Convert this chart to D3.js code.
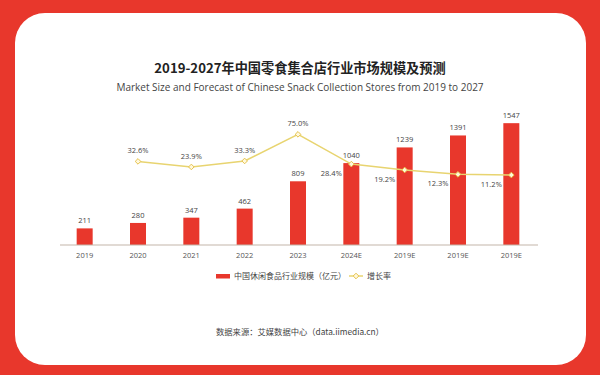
<!DOCTYPE html>
<html>
<head>
<meta charset="utf-8">
<script src="https://cdn.jsdelivr.net/npm/d3@7"></script>
<style>
  body { margin: 0; background: #e8372c; }
  svg { display: block; }
</style>
</head>
<body>
<div id="chart"></div>
<script>
// chart data
const years = ["2019", "2020", "2021", "2022", "2023", "2024E", "2019E", "2019E", "2019E"];
const marketSize = [211, 280, 347, 462, 809, 1040, 1239, 1391, 1547];
const growthRate = [null, 32.6, 23.9, 33.3, 75.0, 28.4, 19.2, 12.3, 11.2];

const title = "2019-2027年中国零食集合店行业市场规模及预测";
const subtitle = "Market Size and Forecast of Chinese Snack Collection Stores from 2019 to 2027";
const legendLabels = ["中国休闲食品行业规模（亿元）", "增长率"];
const source = "数据来源：艾媒数据中心（data.iimedia.cn）";

const width = 600, height = 375;
const red = "#e8372c", gold = "#e8d470";
const cjk = "'Noto Sans CJK SC', 'Noto Sans', sans-serif";

const svg = d3.select("#chart").append("svg")
    .attr("width", width)
    .attr("height", height);

// red frame + white card
svg.append("rect").attr("width", width).attr("height", height).attr("fill", red);
svg.append("rect")
    .attr("x", 15).attr("y", 13)
    .attr("width", 571).attr("height", 352)
    .attr("rx", 30)
    .attr("fill", "#fff");

svg.append("text")
    .attr("x", 300).attr("y", 73)
    .attr("text-anchor", "middle")
    .attr("font-family", cjk)
    .attr("font-weight", "bold")
    .attr("font-size", 13.2)
    .attr("fill", "#222")
    .text(title);

svg.append("text")
    .attr("x", 300).attr("y", 91)
    .attr("text-anchor", "middle")
    .attr("font-family", "'Open Sans', sans-serif")
    .attr("font-size", 10)
    .attr("fill", "#444")
    .text(subtitle);

const x = d3.scaleBand()
    .domain(d3.range(years.length))
    .range([58, 538])
    .paddingInner(0.7)
    .paddingOuter(0.35);

const y = d3.scaleLinear().domain([0, 1600]).range([245, 119]);
const y2 = d3.scaleLinear().domain([0, 100]).range([182.2, 118.4]);

// bars
svg.append("g").selectAll("rect")
    .data(marketSize)
    .join("rect")
    .attr("x", (d, i) => x(i))
    .attr("y", d => y(d))
    .attr("width", x.bandwidth())
    .attr("height", d => y(0) - y(d))
    .attr("fill", red);

svg.append("g").selectAll("text")
    .data(marketSize)
    .join("text")
    .attr("x", (d, i) => x(i) + x.bandwidth() / 2)
    .attr("y", d => y(d) - 5)
    .attr("text-anchor", "middle")
    .attr("font-family", "'Open Sans', sans-serif")
    .attr("font-size", 7.5)
    .attr("fill", "#444")
    .text(d => d);

// x axis
const xAxis = svg.append("g")
    .attr("transform", `translate(0,${y(0)})`)
    .call(d3.axisBottom(x).tickSize(0).tickPadding(8).tickFormat(i => years[i]));
xAxis.select(".domain").attr("stroke", "#c4b6aa").attr("stroke-width", 1.2).attr("d", "M60,0H538");
xAxis.selectAll("text")
    .attr("font-family", "'Open Sans', sans-serif")
    .attr("font-size", 7.5)
    .attr("fill", "#555");

// growth line
const pts = growthRate.map((v, i) => ({ v, i })).filter(d => d.v != null);
const line = d3.line()
    .x(d => x(d.i) + x.bandwidth() / 2)
    .y(d => y2(d.v));

svg.append("path")
    .datum(pts)
    .attr("d", line)
    .attr("fill", "none")
    .attr("stroke", gold)
    .attr("stroke-width", 1.5);

svg.append("g").selectAll("path")
    .data(pts)
    .join("path")
    .attr("d", d3.symbol(d3.symbolDiamond2, 20))
    .attr("transform", d => `translate(${x(d.i) + x.bandwidth() / 2},${y2(d.v)})`)
    .attr("fill", "#fff8dc")
    .attr("stroke", "#e6c24c")
    .attr("stroke-width", 1);

svg.append("g").selectAll("text")
    .data(pts)
    .join("text")
    .attr("x", d => x(d.i) + x.bandwidth() / 2 + (d.i >= 5 ? -20 : 0))
    .attr("y", d => y2(d.v) + (d.i >= 5 ? 12 : -8))
    .attr("text-anchor", "middle")
    .attr("font-family", "'Open Sans', sans-serif")
    .attr("font-size", 7.5)
    .attr("fill", "#444")
    .text(d => d.v.toFixed(1) + "%");

// legend
const legend = svg.append("g").attr("font-family", cjk).attr("font-size", 8).attr("fill", "#444");
legend.append("rect").attr("x", 216).attr("y", 274).attr("width", 14).attr("height", 4.5).attr("fill", red);
legend.append("text").attr("x", 234).attr("y", 279).text(legendLabels[0]);
legend.append("line").attr("x1", 349).attr("x2", 363).attr("y1", 276).attr("y2", 276)
    .attr("stroke", gold).attr("stroke-width", 1.5);
legend.append("path").attr("d", d3.symbol(d3.symbolDiamond2, 20))
    .attr("transform", "translate(356,276)")
    .attr("fill", "#fff8dc").attr("stroke", "#e6c24c");
legend.append("text").attr("x", 367).attr("y", 279).text(legendLabels[1]);

svg.append("text")
    .attr("x", 216).attr("y", 335)
    .attr("font-family", cjk)
    .attr("font-size", 8.3)
    .attr("fill", "#444")
    .text(source);
</script>
</body>
</html>
